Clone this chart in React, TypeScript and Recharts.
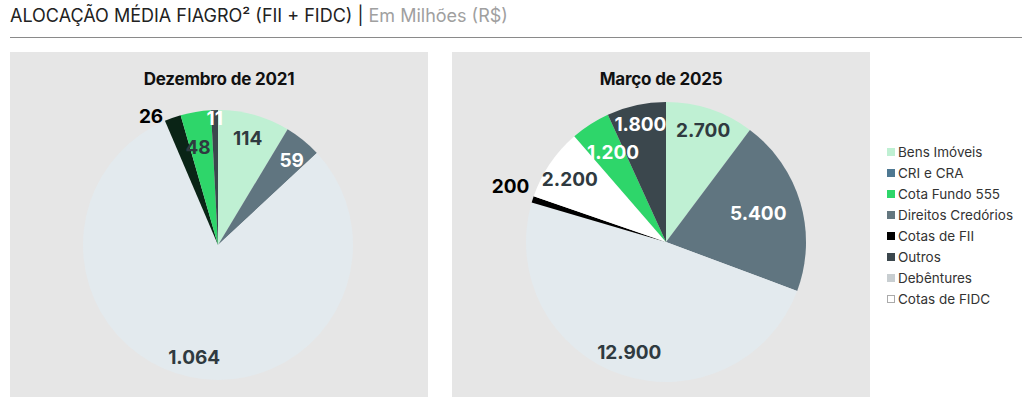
import { PieChart, Pie, Cell } from "recharts";

// legend
const legendNames = [
  "Bens Imóveis",
  "CRI e CRA",
  "Cota Fundo 555",
  "Direitos Credórios",
  "Cotas de FII",
  "Outros",
  "Debêntures",
  "Cotas de FIDC",
];
const legendColors = ["#bff0d3", "#4e7892", "#2ed66a", "#64777f", "#000000", "#3b474d", "#c8ced1", "#ffffff"];

// Dezembro de 2021 (clockwise from 12 o'clock)
const dec2021Names = ["Bens Imóveis", "Direitos Credórios", "Debêntures", "Cotas de FII", "Cota Fundo 555", "Outros"];
const dec2021Values = [114, 59, 1064, 26, 48, 11];

// Março de 2025
const mar2025Names = ["Bens Imóveis", "Direitos Credórios", "Debêntures", "Cotas de FII", "Cotas de FIDC", "Cota Fundo 555", "Outros"];
const mar2025Values = [2700, 5400, 12900, 200, 2200, 1200, 1800];

const sliceColor: Record<string, string> = {
  "Bens Imóveis": "#bff0d3",
  "Direitos Credórios": "#607580",
  "Debêntures": "#e3eaee",
  "Cotas de FII": "#0a2416",
  "Cota Fundo 555": "#2ed66a",
  "Outros": "#3b474d",
  "Cotas de FIDC": "#ffffff",
};

const DARK = "#2f3a40";

// label placement: [radius factor, clockwise angle shift, text color]
const decLabels: [number, number, string][] = [
  [0.82, 0, DARK],
  [0.83, 2, "#ffffff"],
  [0.85, 0, DARK],
  [1.07, -8, "#000000"],
  [0.74, -2, DARK],
  [0.94, 0, "#ffffff"],
];
const marLabels: [number, number, string][] = [
  [0.84, 0, DARK],
  [0.69, -1, "#ffffff"],
  [0.83, 0, DARK],
  [1.18, 2, "#000000"],
  [0.82, -1, DARK],
  [0.74, 2, "#ffffff"],
  [0.86, 0, "#ffffff"],
];

const fmt = (v: number) => String(v).replace(/\B(?=(\d{3})+(?!\d))/g, ".");
const RAD = Math.PI / 180;

function makeLabel(cfg: [number, number, string][]) {
  return (props: any) => {
    const { cx, cy, midAngle, outerRadius, index, value } = props;
    const [f, shift, color] = cfg[index];
    const a = (midAngle - shift) * RAD;
    const r = outerRadius * f;
    const x = cx + r * Math.cos(a);
    const y = cy - r * Math.sin(a);
    return (
      <text x={x} y={y} fill={color} textAnchor="middle" dominantBaseline="central"
        style={{ fontFamily: "Inter", fontWeight: 700, fontSize: 19 }}>
        {fmt(value)}
      </text>
    );
  };
}

function PiePanel({ left, title, names, values, labels, cx, cy, r, fiiColor }: any) {
  const data = names.map((n: string, i: number) => ({ name: n, value: values[i] }));
  return (
    <div style={{ position: "absolute", left, top: 52, width: 418, height: 345, background: "#e6e6e6" }}>
      <div style={{ position: "absolute", top: 17, width: "100%", textAlign: "center", fontFamily: "Inter", fontWeight: 700, fontSize: 17, letterSpacing: -0.2, color: "#111" }}>
        {title}
      </div>
      <div style={{ position: "absolute", left: 0, top: 0 }}>
        <PieChart width={418} height={345} margin={{ top: 0, right: 0, bottom: 0, left: 0 }}>
          <Pie data={data} dataKey="value" cx={cx} cy={cy} outerRadius={r} startAngle={90} endAngle={-270}
            stroke="none" labelLine={false} label={makeLabel(labels)} isAnimationActive={false}>
            {data.map((d: any, i: number) => (
              <Cell key={i} fill={d.name === "Cotas de FII" ? fiiColor : sliceColor[d.name]} />
            ))}
          </Pie>
        </PieChart>
      </div>
    </div>
  );
}

export default function App() {
  return (
    <div style={{ position: "absolute", left: 0, top: 0, width: 1024, height: 397, background: "#fff", overflow: "hidden" }}>
      <div style={{ position: "absolute", left: 10, top: 5, fontFamily: "Inter", fontWeight: 400, fontSize: 18, letterSpacing: 0, color: "#222", whiteSpace: "nowrap" }}>
        ALOCAÇÃO MÉDIA FIAGRO² (FII + FIDC) | <span style={{ color: "#a0a0a0" }}>Em Milhões (R$)</span>
      </div>
      <div style={{ position: "absolute", left: 10, top: 37, width: 1012, height: 1, background: "#8a8a8a" }} />
      <PiePanel left={10} title="Dezembro de 2021" names={dec2021Names} values={dec2021Values} labels={decLabels}
        cx={208} cy={193} r={135} fiiColor="#0a2416" />
      <PiePanel left={452} title="Março de 2025" names={mar2025Names} values={mar2025Values} labels={marLabels}
        cx={214} cy={190} r={140} fiiColor="#000000" />
      <div style={{ position: "absolute", left: 887, top: 141 }}>
        {legendNames.map((n, i) => (
          <div key={n} style={{ display: "flex", alignItems: "center", height: 21, fontFamily: "Inter", fontSize: 13.5, color: "#333" }}>
            <span style={{ width: 8, height: 8, marginRight: 3, background: legendColors[i], border: legendColors[i] === "#ffffff" ? "1px solid #aaa" : "none", boxSizing: "border-box" }} />
            {n}
          </div>
        ))}
      </div>
    </div>
  );
}
